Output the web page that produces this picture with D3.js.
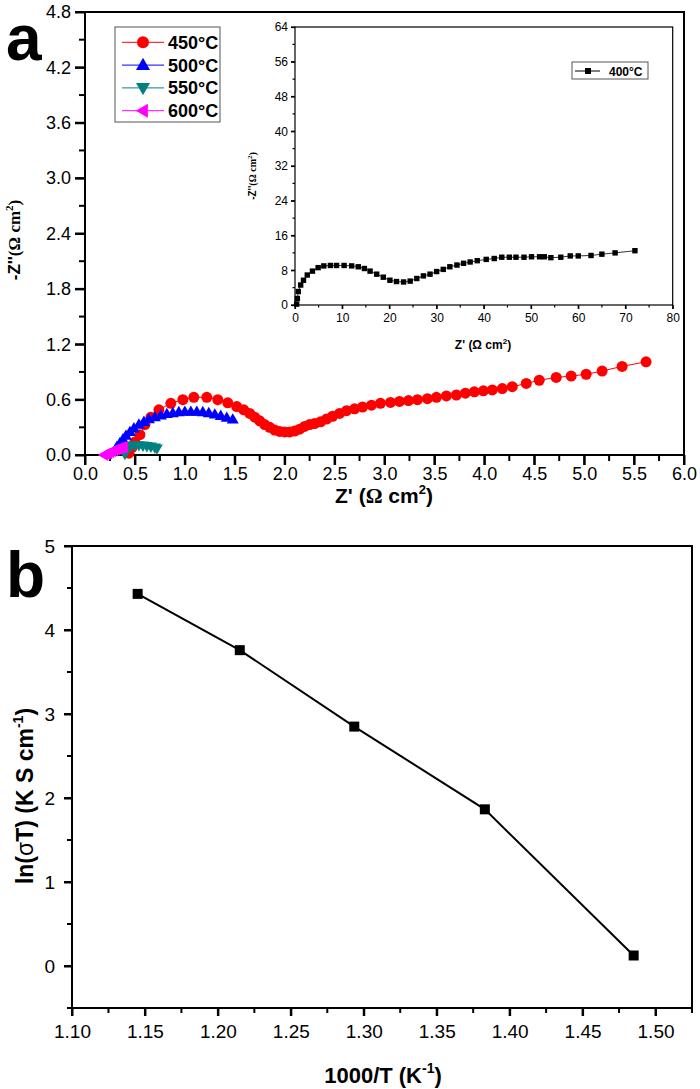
<!DOCTYPE html>
<html><head><meta charset="utf-8">
<script src="https://cdn.jsdelivr.net/npm/d3@7"></script>
<style>
body{margin:0;background:#fff;}
svg{display:block;}
text{font-family:"Liberation Sans",Arial,sans-serif;}
</style></head>
<body>
<svg id="c" width="700" height="1089"></svg>
<script>
// ---------- DATA ----------
const s450 = [[0.44,0.02],[0.47,0.08],[0.50,0.14],[0.55,0.22],[0.60,0.33],[0.66,0.41],[0.74,0.49],[0.86,0.56],[0.98,0.60],[1.09,0.625],[1.22,0.625],[1.33,0.60],[1.43,0.565],[1.52,0.525],[1.59,0.49],[1.65,0.45],[1.70,0.41],[1.75,0.37],[1.80,0.33],[1.85,0.30],[1.90,0.27],[1.95,0.255],[2.00,0.25],[2.05,0.25],[2.10,0.26],[2.15,0.28],[2.20,0.31],[2.25,0.33],[2.30,0.34],[2.36,0.36],[2.42,0.39],[2.48,0.42],[2.55,0.45],[2.62,0.48],[2.70,0.50],[2.78,0.52],[2.87,0.54],[2.96,0.56],[3.06,0.57],[3.15,0.58],[3.24,0.59],[3.33,0.60],[3.43,0.61],[3.52,0.625],[3.62,0.64],[3.72,0.65],[3.81,0.67],[3.90,0.685],[3.99,0.695],[4.08,0.705],[4.18,0.72],[4.28,0.74],[4.42,0.775],[4.55,0.81],[4.72,0.84],[4.87,0.855],[5.02,0.875],[5.18,0.91],[5.38,0.96],[5.62,1.01]];
const s500 = [[0.30,0.05],[0.32,0.09],[0.35,0.13],[0.38,0.17],[0.41,0.21],[0.45,0.25],[0.49,0.29],[0.54,0.33],[0.59,0.36],[0.64,0.39],[0.70,0.41],[0.76,0.43],[0.82,0.445],[0.88,0.455],[0.94,0.465],[1.00,0.47],[1.06,0.47],[1.12,0.47],[1.18,0.465],[1.24,0.455],[1.30,0.44],[1.36,0.425],[1.42,0.405],[1.48,0.385]];
const s550 = [[0.40,0.01],[0.405,0.04],[0.41,0.07],[0.43,0.09],[0.46,0.10],[0.50,0.105],[0.54,0.105],[0.58,0.10],[0.62,0.095],[0.66,0.09],[0.70,0.08],[0.72,0.07]];
const s600 = [[0.19,0.0],[0.21,0.01],[0.23,0.02],[0.25,0.03],[0.27,0.04],[0.29,0.05],[0.31,0.06],[0.33,0.07],[0.35,0.075],[0.37,0.08],[0.39,0.085]];
const s400 = [[0.35,0.2],[0.5,1.5],[0.7,3.1],[1.2,4.6],[1.8,5.7],[2.6,6.9],[3.7,7.8],[4.9,8.6],[6.1,9.0],[7.5,9.1],[8.8,9.1],[10.4,9.1],[12.0,9.0],[13.4,8.8],[14.7,8.4],[15.9,7.8],[17.3,7.1],[18.7,6.4],[20.1,5.7],[21.5,5.4],[23.0,5.3],[24.4,5.5],[25.8,6.1],[27.2,6.7],[28.6,7.1],[30.0,7.7],[31.4,8.2],[32.8,8.8],[34.3,9.2],[35.7,9.6],[37.1,9.9],[38.6,10.2],[40.5,10.5],[42.2,10.7],[43.8,11.0],[45.4,11.0],[46.8,11.0],[48.5,11.0],[50.1,11.1],[51.8,11.1],[52.8,11.1],[54.2,10.9],[56.3,11.0],[58.3,11.3],[60.0,11.3],[62.7,11.4],[65.0,11.7],[67.8,12.0],[72.0,12.5]];
const invT = [1.145,1.215,1.2935,1.383,1.485];
const lnSigmaT = [4.43,3.76,2.85,1.865,0.125];

const aXTicks = [0,0.5,1,1.5,2,2.5,3,3.5,4,4.5,5,5.5,6];
const aYTicks = [0,0.6,1.2,1.8,2.4,3.0,3.6,4.2,4.8];
const iXTicks = [0,10,20,30,40,50,60,70,80];
const iYTicks = [0,8,16,24,32,40,48,56,64];
const bXTicks = [1.10,1.15,1.20,1.25,1.30,1.35,1.40,1.45,1.50];
const bYTicks = [0,1,2,3,4,5];
const legendA = ["450°C","500°C","550°C","600°C"];
const colorsA = ["#ff0000","#0000ff","#008080","#ff00ff"];

// ---------- DRAW ----------
const svg = d3.select("#c");
const xA = d3.scaleLinear([0,6],[85,684]);
const yA = d3.scaleLinear([0,4.8],[455,12]);
const xI = d3.scaleLinear([0,80],[295,672.7]);
const yI = d3.scaleLinear([0,64],[305,27]);
const xB = d3.scaleLinear([1.10,1.525],[72,692]);
const yB = d3.scaleLinear([-0.5,5],[1008,546]);

function styleAxis(g, w, fs){
  g.select(".domain").remove();
  g.selectAll(".tick line").attr("stroke","#000").attr("stroke-width",w);
  g.selectAll("text").attr("font-size",fs).attr("fill","#000").attr("font-family","'Liberation Sans',Arial,sans-serif");
}
function mids(t){ const r=[]; for(let i=0;i<t.length-1;i++) r.push((t[i]+t[i+1])/2); return r; }
// explicit tick marks from a scale
function ticks(scale, vals, orient, pos, len, w){
  const gg = svg.append("g");
  vals.forEach(v=>{
    const p = scale(v);
    if(orient==="bottom") gg.append("line").attr("x1",p).attr("x2",p).attr("y1",pos).attr("y2",pos+len);
    else gg.append("line").attr("y1",p).attr("y2",p).attr("x1",pos).attr("x2",pos-len);
  });
  gg.selectAll("line").attr("stroke","#000").attr("stroke-width",w);
}
function frame(x0,x1,y0,y1,w){
  svg.append("rect").attr("x",x0).attr("y",y1).attr("width",x1-x0).attr("height",y0-y1)
    .attr("fill","none").attr("stroke","#000").attr("stroke-width",w);
}

// ===== Panel a =====
let g;
g = svg.append("g").attr("transform",`translate(0,${yA(0)})`).call(d3.axisBottom(xA).tickValues(aXTicks).tickSize(10).tickPadding(2).tickFormat(d3.format(".1f")));
styleAxis(g,2,18);
g = svg.append("g").attr("transform",`translate(${xA(0)},0)`).call(d3.axisLeft(yA).tickValues(aYTicks).tickSize(10).tickPadding(4).tickFormat(d3.format(".1f")));
styleAxis(g,2,18);
ticks(xA, aXTicks, "bottom", yA(0), 10, 2);
ticks(xA, mids(aXTicks), "bottom", yA(0), 6, 2);
ticks(yA, aYTicks, "left", xA(0), 10, 2);
ticks(yA, mids(aYTicks), "left", xA(0), 6, 2);
frame(xA(0),xA(6),yA(0),yA(4.8),2);

function tri(dir, s){
  const h = s*0.866;
  if(dir==="up") return `M0,${-h*0.6}L${s/2},${h*0.4}L${-s/2},${h*0.4}Z`;
  if(dir==="down") return `M0,${h*0.6}L${s/2},${-h*0.4}L${-s/2},${-h*0.4}Z`;
  return `M${-h*0.6},0L${h*0.4},${-s/2}L${h*0.4},${s/2}Z`;
}
const line = d3.line().x(d=>xA(d[0])).y(d=>yA(d[1]));
const seriesA = [
  {d:s450,c:colorsA[0],m:"circle"},
  {d:s500,c:colorsA[1],m:"up"},
  {d:s550,c:colorsA[2],m:"down"},
  {d:s600,c:colorsA[3],m:"left"}
];
seriesA.forEach(s=>{
  svg.append("path").attr("d",line(s.d)).attr("fill","none").attr("stroke",s.c).attr("stroke-width",1);
  const gg = svg.append("g");
  s.d.forEach(p=>{
    if(s.m==="circle") gg.append("circle").attr("cx",xA(p[0])).attr("cy",yA(p[1])).attr("r",5.5).attr("fill",s.c);
    else gg.append("path").attr("d",tri(s.m,12)).attr("transform",`translate(${xA(p[0])},${yA(p[1])})`).attr("fill",s.c);
  });
});

// legend a
svg.append("rect").attr("x",115).attr("y",27).attr("width",105).attr("height",95).attr("fill","#fff").attr("stroke","#555").attr("stroke-width",1);
legendA.forEach((t,i)=>{
  const y = 42.3 + i*22.8;
  svg.append("line").attr("x1",122).attr("x2",164).attr("y1",y).attr("y2",y).attr("stroke",colorsA[i]).attr("stroke-width",1);
  if(i===0) svg.append("circle").attr("cx",143).attr("cy",y).attr("r",6).attr("fill",colorsA[i]);
  else svg.append("path").attr("d",tri(seriesA[i].m,14)).attr("transform",`translate(143,${y})`).attr("fill",colorsA[i]);
  svg.append("text").attr("x",168).attr("y",y+6.5).attr("font-size",18).attr("font-weight","bold").text(t);
});

// titles a
const yt = svg.append("text").attr("transform","translate(20,240) rotate(-90)").attr("text-anchor","middle").attr("font-size",17).attr("font-weight","bold");
yt.append("tspan").text("-Z''");
yt.append("tspan").attr("font-family","'Liberation Serif','Times New Roman',serif").text("(Ω cm");
yt.append("tspan").attr("font-family","'Liberation Serif','Times New Roman',serif").attr("font-size",11).attr("dy",-7).text("2");
yt.append("tspan").attr("font-family","'Liberation Serif','Times New Roman',serif").attr("dy",7).text(")");

const xt = svg.append("text").attr("x",384).attr("y",503).attr("text-anchor","middle").attr("font-size",21).attr("font-weight","bold");
xt.append("tspan").text("Z' (");
xt.append("tspan").attr("font-family","'Liberation Serif','Times New Roman',serif").text("Ω");
xt.append("tspan").text(" cm");
xt.append("tspan").attr("font-size",13).attr("dy",-9).text("2");
xt.append("tspan").attr("dy",9).text(")");

svg.append("text").attr("x",6).attr("y",60).attr("font-family","'Liberation Serif','Times New Roman',serif").attr("font-weight","bold").attr("font-size",64).text("a");

// ===== Inset =====
g = svg.append("g").attr("transform",`translate(0,${yI(0)})`).call(d3.axisBottom(xI).tickValues(iXTicks).tickSize(4).tickPadding(4).tickFormat(d3.format("d")));
styleAxis(g,1.2,12);
g = svg.append("g").attr("transform",`translate(${xI(0)},0)`).call(d3.axisLeft(yI).tickValues(iYTicks).tickSize(4).tickPadding(3).tickFormat(d3.format("d")));
styleAxis(g,1.2,12);
ticks(xI, iXTicks, "bottom", yI(0), 4, 1.2);
ticks(xI, mids(iXTicks), "bottom", yI(0), 2.5, 1.2);
ticks(yI, iYTicks, "left", xI(0), 4, 1.2);
ticks(yI, mids(iYTicks), "left", xI(0), 2.5, 1.2);
frame(xI(0),xI(80),yI(0),yI(64),1.2);

const lineI = d3.line().x(d=>xI(d[0])).y(d=>yI(d[1]));
svg.append("path").attr("d",lineI(s400)).attr("fill","none").attr("stroke","#000").attr("stroke-width",0.8);
svg.append("g").selectAll("rect").data(s400).join("rect")
  .attr("x",d=>xI(d[0])-2.7).attr("y",d=>yI(d[1])-2.7).attr("width",5.4).attr("height",5.4).attr("fill","#000");

svg.append("rect").attr("x",572).attr("y",62).attr("width",76).attr("height",17).attr("fill","#fff").attr("stroke","#555").attr("stroke-width",1);
svg.append("line").attr("x1",575).attr("x2",600).attr("y1",71).attr("y2",71).attr("stroke","#000").attr("stroke-width",1);
svg.append("rect").attr("x",585).attr("y",68).attr("width",6).attr("height",6).attr("fill","#000");
svg.append("text").attr("x",609).attr("y",75.5).attr("font-size",12).attr("font-weight","bold").text("400°C");

const iyt = svg.append("text").attr("transform","translate(256,176) rotate(-90)").attr("text-anchor","middle").attr("font-size",10).attr("font-weight","bold");
iyt.append("tspan").text("-Z''");
iyt.append("tspan").attr("font-family","'Liberation Serif','Times New Roman',serif").text("(Ω cm");
iyt.append("tspan").attr("font-family","'Liberation Serif','Times New Roman',serif").attr("font-size",7).attr("dy",-4).text("2");
iyt.append("tspan").attr("font-family","'Liberation Serif','Times New Roman',serif").attr("dy",4).text(")");

const ixt = svg.append("text").attr("x",483).attr("y",349).attr("text-anchor","middle").attr("font-size",12).attr("font-weight","bold").attr("font-family","'Liberation Serif','Times New Roman',serif");
ixt.append("tspan").text("Z' (Ω cm");
ixt.append("tspan").attr("font-size",8).attr("dy",-5).text("2");
ixt.append("tspan").attr("dy",5).text(")");

// ===== Panel b =====
g = svg.append("g").attr("transform",`translate(0,${yB(-0.5)})`).call(d3.axisBottom(xB).tickValues(bXTicks).tickSize(8).tickPadding(9).tickFormat(d3.format(".2f")));
styleAxis(g,2,19);
g = svg.append("g").attr("transform",`translate(${xB(1.10)},0)`).call(d3.axisLeft(yB).tickValues(bYTicks).tickSize(8).tickPadding(9).tickFormat(d3.format("d")));
styleAxis(g,2,19);
ticks(xB, bXTicks, "bottom", yB(-0.5), 8, 2);
ticks(xB, mids(bXTicks).concat([1.525]), "bottom", yB(-0.5), 5, 2);
ticks(yB, bYTicks, "left", xB(1.10), 8, 2);
ticks(yB, [-0.5].concat(mids(bYTicks)), "left", xB(1.10), 5, 2);
frame(xB(1.10),xB(1.525),yB(-0.5),yB(5),2);

const ptsB = invT.map((v,i)=>[v,lnSigmaT[i]]);
const lineB = d3.line().x(d=>xB(d[0])).y(d=>yB(d[1]));
svg.append("path").attr("d",lineB(ptsB)).attr("fill","none").attr("stroke","#000").attr("stroke-width",2);
svg.append("g").selectAll("rect").data(ptsB).join("rect")
  .attr("x",d=>xB(d[0])-5).attr("y",d=>yB(d[1])-5).attr("width",10).attr("height",10).attr("fill","#000");

const byt = svg.append("text").attr("transform","translate(33,796) rotate(-90)").attr("text-anchor","middle").attr("font-size",23).attr("font-weight","bold");
byt.append("tspan").text("ln(");
byt.append("tspan").attr("font-weight","normal").text("σ");
byt.append("tspan").text("T) (K S cm");
byt.append("tspan").attr("font-size",14).attr("dy",-10).text("-1");
byt.append("tspan").attr("dy",10).text(")");

const bxt = svg.append("text").attr("x",383).attr("y",1083).attr("text-anchor","middle").attr("font-size",22).attr("font-weight","bold");
bxt.append("tspan").text("1000/T (K");
bxt.append("tspan").attr("font-size",14).attr("dy",-10).text("-1");
bxt.append("tspan").attr("dy",10).text(")");

svg.append("text").attr("x",6).attr("y",597).attr("font-family","'Liberation Serif','Times New Roman',serif").attr("font-weight","bold").attr("font-size",64).text("b");
</script>
</body></html>
